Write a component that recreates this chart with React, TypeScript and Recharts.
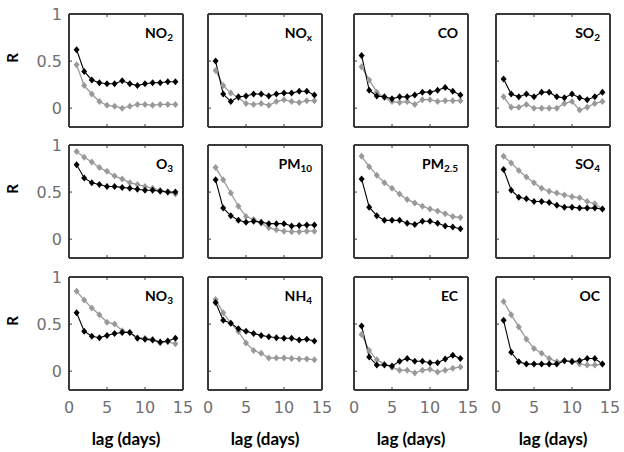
import React from 'react';
import { LineChart, Line, XAxis, YAxis } from 'recharts';

// lag in days, shared by every panel
const lags = [1, 2, 3, 4, 5, 6, 7, 8, 9, 10, 11, 12, 13, 14];

const no2Black = [0.62, 0.39, 0.3, 0.27, 0.26, 0.26, 0.29, 0.26, 0.24, 0.26, 0.27, 0.27, 0.28, 0.28];
const no2Gray = [0.46, 0.24, 0.15, 0.07, 0.03, 0.02, 0.0, 0.02, 0.04, 0.04, 0.03, 0.04, 0.04, 0.04];
const noxBlack = [0.5, 0.15, 0.07, 0.12, 0.13, 0.15, 0.15, 0.13, 0.15, 0.16, 0.16, 0.18, 0.18, 0.14];
const noxGray = [0.4, 0.24, 0.16, 0.11, 0.05, 0.04, 0.05, 0.03, 0.07, 0.09, 0.07, 0.06, 0.08, 0.08];
const coBlack = [0.56, 0.19, 0.13, 0.12, 0.1, 0.12, 0.12, 0.14, 0.17, 0.17, 0.19, 0.22, 0.18, 0.14];
const coGray = [0.44, 0.3, 0.17, 0.11, 0.07, 0.06, 0.07, 0.04, 0.09, 0.09, 0.07, 0.08, 0.08, 0.08];
const so2Black = [0.31, 0.15, 0.12, 0.15, 0.12, 0.17, 0.17, 0.12, 0.11, 0.15, 0.11, 0.09, 0.12, 0.17];
const so2Gray = [0.12, 0.01, 0.01, 0.04, 0.0, 0.0, 0.0, 0.0, 0.05, 0.07, -0.02, 0.01, 0.05, 0.07];

const o3Black = [0.79, 0.65, 0.6, 0.58, 0.56, 0.56, 0.55, 0.54, 0.53, 0.52, 0.52, 0.51, 0.5, 0.5];
const o3Gray = [0.93, 0.87, 0.82, 0.76, 0.72, 0.67, 0.64, 0.6, 0.58, 0.56, 0.54, 0.52, 0.5, 0.48];
const pm10Black = [0.63, 0.33, 0.25, 0.2, 0.18, 0.19, 0.18, 0.165, 0.165, 0.165, 0.14, 0.145, 0.15, 0.15];
const pm10Gray = [0.76, 0.63, 0.49, 0.35, 0.24, 0.21, 0.17, 0.12, 0.1, 0.085, 0.08, 0.08, 0.085, 0.085];
const pm25Black = [0.64, 0.34, 0.25, 0.2, 0.2, 0.2, 0.17, 0.155, 0.19, 0.19, 0.17, 0.14, 0.13, 0.11];
const pm25Gray = [0.88, 0.77, 0.68, 0.6, 0.54, 0.48, 0.42, 0.385, 0.35, 0.32, 0.3, 0.27, 0.24, 0.23];
const so4Black = [0.74, 0.52, 0.445, 0.43, 0.4, 0.4, 0.39, 0.36, 0.34, 0.34, 0.33, 0.33, 0.33, 0.32];
const so4Gray = [0.88, 0.81, 0.73, 0.66, 0.6, 0.54, 0.51, 0.49, 0.47, 0.45, 0.44, 0.4, 0.375, 0.32];

const no3Black = [0.62, 0.425, 0.37, 0.355, 0.38, 0.4, 0.41, 0.41, 0.35, 0.34, 0.33, 0.31, 0.32, 0.35];
const no3Gray = [0.85, 0.755, 0.67, 0.6, 0.52, 0.5, 0.43, 0.41, 0.355, 0.35, 0.34, 0.3, 0.31, 0.29];
const nh4Black = [0.73, 0.54, 0.51, 0.45, 0.425, 0.4, 0.38, 0.365, 0.355, 0.35, 0.35, 0.33, 0.34, 0.32];
const nh4Gray = [0.76, 0.62, 0.51, 0.42, 0.3, 0.22, 0.19, 0.14, 0.14, 0.14, 0.135, 0.13, 0.13, 0.12];
const ecBlack = [0.48, 0.15, 0.065, 0.065, 0.056, 0.106, 0.135, 0.106, 0.106, 0.09, 0.09, 0.13, 0.17, 0.135];
const ecGray = [0.39, 0.22, 0.12, 0.075, 0.04, 0.01, 0.01, -0.02, 0.01, 0.02, -0.01, 0.01, 0.03, 0.045];
const ocBlack = [0.54, 0.2, 0.1, 0.075, 0.075, 0.075, 0.075, 0.075, 0.11, 0.1, 0.11, 0.135, 0.135, 0.075];
const ocGray = [0.74, 0.6, 0.47, 0.34, 0.24, 0.19, 0.135, 0.1, 0.11, 0.11, 0.075, 0.065, 0.065, 0.075];

// panel titles: [main text, subscript]
const titles: [string, string][] = [
    ['NO', '2'], ['NO', 'x'], ['CO', ''], ['SO', '2'],
    ['O', '3'], ['PM', '10'], ['PM', '2.5'], ['SO', '4'],
    ['NO', '3'], ['NH', '4'], ['EC', ''], ['OC', ''],
];
const blackSeries = [no2Black, noxBlack, coBlack, so2Black, o3Black, pm10Black, pm25Black, so4Black, no3Black, nh4Black, ecBlack, ocBlack];
const graySeries = [no2Gray, noxGray, coGray, so2Gray, o3Gray, pm10Gray, pm25Gray, so4Gray, no3Gray, nh4Gray, ecGray, ocGray];

const xTicks = [0, 5, 10, 15];
const yTicks = [0, 0.5, 1];

const colLefts = [69, 208, 354, 496];
const rowTops = [14, 145, 277];
const PW = 114;
const PH = 113;
const LEFT = 69;
const TOP = 14;
const RIGHT = 10;
const BOTTOM = 63;

const BOX = '#3a3a3a';
const GRAY = '#999';
const TICK_TEXT = '#707070';

const diamond = (color: string) => (props: any) => {
    const { cx, cy, index } = props;
    if (cx == null || cy == null) return <g key={index} />;
    return (
        <path
            key={index}
            d={`M${cx},${cy - 3.5}L${cx + 3},${cy}L${cx},${cy + 3.5}L${cx - 3},${cy}Z`}
            fill={color}
        />
    );
};

const bottomTick = (showLabel: boolean) => (props: any) => {
    const { x, y, payload } = props;
    const v = payload.value;
    return (
        <g>
            {v !== 0 && v !== 15 && <line x1={x} x2={x} y1={y} y2={y - 3} stroke={BOX} />}
            {showLabel && (
                <text x={x} y={y + 23} textAnchor="middle" fontSize={16} fill={TICK_TEXT} fontFamily="DejaVu Sans">
                    {v}
                </text>
            )}
        </g>
    );
};

const topTick = (props: any) => {
    const { x, y, payload } = props;
    const v = payload.value;
    if (v === 0 || v === 15) return <g />;
    return <line x1={x} x2={x} y1={y} y2={y + 3} stroke={BOX} />;
};

const leftTick = (showLabel: boolean) => (props: any) => {
    const { x, y, payload } = props;
    const v = payload.value;
    return (
        <g>
            {v !== 1 && <line x1={x} x2={x + 3} y1={y} y2={y} stroke={BOX} />}
            {showLabel && (
                <text x={x - 7} y={y} dy="0.36em" textAnchor="end" fontSize={16} fill={TICK_TEXT} fontFamily="DejaVu Sans">
                    {v}
                </text>
            )}
        </g>
    );
};

const rightTick = (props: any) => {
    const { x, y, payload } = props;
    if (payload.value === 1) return <g />;
    return <line x1={x} x2={x - 3} y1={y} y2={y} stroke={BOX} />;
};

const Panel = ({ idx }: { idx: number }) => {
    const row = Math.floor(idx / 4);
    const col = idx % 4;
    const data = lags.map((lag, i) => ({ lag, black: blackSeries[idx][i], gray: graySeries[idx][i] }));
    const [main, sub] = titles[idx];
    const left = colLefts[col];
    const top = rowTops[row];

    return (
        <>
            <div style={{ position: 'absolute', left: left - LEFT, top: top - TOP }}>
                <LineChart
                    width={LEFT + PW + RIGHT}
                    height={TOP + PH + BOTTOM}
                    data={data}
                    margin={{ top: TOP - 1, right: RIGHT - 1, bottom: 0, left: 0 }}
                >
                    <XAxis
                        xAxisId="b"
                        dataKey="lag"
                        type="number"
                        domain={[0, 15]}
                        ticks={xTicks}
                        interval={0}
                        height={BOTTOM}
                        tickSize={0}
                        tickMargin={0}
                        tickLine={false}
                        axisLine={{ stroke: BOX, strokeWidth: 2 }}
                        tick={bottomTick(row === 2)}
                    />
                    <XAxis
                        xAxisId="t"
                        orientation="top"
                        dataKey="lag"
                        type="number"
                        domain={[0, 15]}
                        ticks={xTicks}
                        interval={0}
                        height={1}
                        tickSize={0}
                        tickMargin={0}
                        tickLine={false}
                        axisLine={{ stroke: BOX, strokeWidth: 2 }}
                        tick={topTick}
                    />
                    <YAxis
                        yAxisId="l"
                        type="number"
                        domain={[-0.2, 1]}
                        ticks={yTicks}
                        interval={0}
                        width={LEFT}
                        tickSize={0}
                        tickMargin={0}
                        tickLine={false}
                        axisLine={{ stroke: BOX, strokeWidth: 2 }}
                        tick={leftTick(col === 0)}
                    />
                    <YAxis
                        yAxisId="r"
                        orientation="right"
                        type="number"
                        domain={[-0.2, 1]}
                        ticks={yTicks}
                        interval={0}
                        width={1}
                        tickSize={0}
                        tickMargin={0}
                        tickLine={false}
                        axisLine={{ stroke: BOX, strokeWidth: 2 }}
                        tick={rightTick}
                    />
                    <Line
                        xAxisId="b"
                        yAxisId="l"
                        type="linear"
                        dataKey="gray"
                        stroke={GRAY}
                        strokeWidth={1.3}
                        dot={diamond(GRAY)}
                        activeDot={false}
                        isAnimationActive={false}
                    />
                    <Line
                        xAxisId="b"
                        yAxisId="l"
                        type="linear"
                        dataKey="black"
                        stroke="#000"
                        strokeWidth={1.1}
                        dot={diamond('#000')}
                        activeDot={false}
                        isAnimationActive={false}
                    />
                </LineChart>
            </div>
            <div
                style={{
                    position: 'absolute',
                    left: left + PW - 10,
                    top: top + 12,
                    transform: 'translateX(-100%)',
                    fontSize: 14,
                    fontWeight: 700,
                    lineHeight: 1,
                    whiteSpace: 'nowrap',
                }}
            >
                {main}
                {sub && <span style={{ fontSize: 10, position: 'relative', top: 3 }}>{sub}</span>}
            </div>
        </>
    );
};

const App: React.FC = () => {
    return (
        <div
            style={{
                position: 'absolute',
                left: 0,
                top: 0,
                width: 624,
                height: 452,
                background: '#fff',
                fontFamily: 'Lato, sans-serif',
                color: '#000',
            }}
        >
            {titles.map((_, i) => (
                <Panel key={i} idx={i} />
            ))}
            {rowTops.map((t) => (
                <div
                    key={t}
                    style={{
                        position: 'absolute',
                        left: 12,
                        top: t + 44,
                        transform: 'translate(-50%, -50%) rotate(-90deg)',
                        fontSize: 15,
                        fontWeight: 700,
                        lineHeight: 1,
                    }}
                >
                    R
                </div>
            ))}
            {colLefts.map((l) => (
                <div
                    key={l}
                    style={{
                        position: 'absolute',
                        left: l + PW / 2,
                        top: 438,
                        transform: 'translate(-50%, -50%)',
                        fontSize: 17,
                        fontWeight: 700,
                        lineHeight: 1,
                        whiteSpace: 'nowrap',
                    }}
                >
                    lag (days)
                </div>
            ))}
        </div>
    );
};

export default App;
